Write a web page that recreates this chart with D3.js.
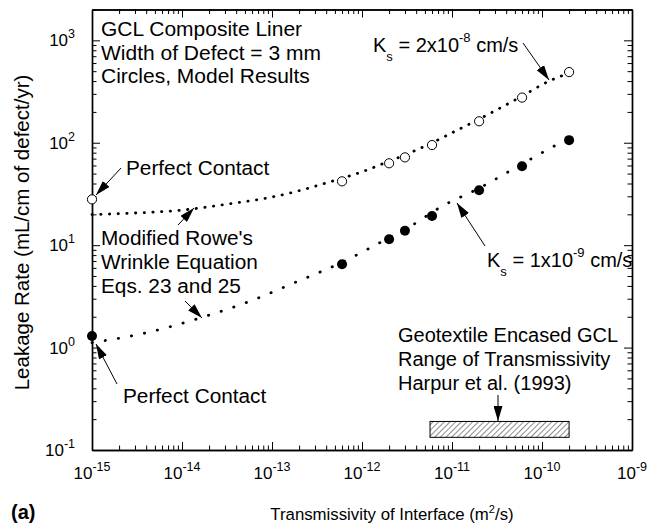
<!DOCTYPE html>
<html><head><meta charset="utf-8">
<script src="https://cdn.jsdelivr.net/npm/d3@7"></script>
<style>
body{margin:0;background:#fff}
svg{display:block}
text{font-family:"Liberation Sans",Arial,Helvetica,sans-serif;fill:#000}
</style>
</head><body>
<svg id="chart" width="651" height="529"></svg>
<script>
// ---------- data ----------
const openX   = [1e-15, 6e-13, 2e-12, 3e-12, 6e-12, 2e-11, 6e-11, 2e-10];
const openY   = [28, 42, 63, 72, 95, 162, 276, 490];
const filledX = [1e-15, 6e-13, 2e-12, 3e-12, 6e-12, 2e-11, 6e-11, 2e-10];
const filledY = [1.3, 6.5, 11.4, 13.8, 19.3, 34.4, 59, 106];
const upperCurveX = [1e-15, 3e-15, 1e-14, 3e-14, 1e-13, 2e-13, 4e-13, 6e-13, 1e-12, 2e-12, 3e-12, 6e-12, 1e-11, 2e-11, 6e-11, 1.2e-10, 2e-10];
const upperCurveY = [19.9, 20.6, 22, 25, 29.5, 34, 40.5, 45, 52, 66, 76, 100, 125, 170, 285, 400, 480];
const lowerCurveX = [1e-15, 3.4e-15, 1.66e-14, 5.7e-14, 1.88e-13, 6e-13, 2e-12, 3e-12, 7.9e-12, 2e-11, 6e-11, 1.28e-10, 2e-10];
const lowerCurveY = [1.12, 1.35, 1.97, 2.84, 4.39, 6.8, 11.8, 14.2, 24.2, 36, 62, 90, 110];
const harpurX = [5.7e-12, 2e-10];
const harpurY = [0.133, 0.19];
const xTickExps = [-15, -14, -13, -12, -11, -10, -9];
const yTickExps = [-1, 0, 1, 2, 3];
const xDomain = [1e-15, 1e-9];
const yDomain = [0.1, 2000];

// ---------- setup ----------
const svg = d3.select("#chart");
const L = 92, R = 632, T = 9.5, B = 450;
const x = d3.scaleLog().domain(xDomain).range([L, R]);
const y = d3.scaleLog().domain(yDomain).range([B, T]);

const defs = svg.append("defs");
defs.append("marker").attr("id", "ah")
  .attr("viewBox", "0 0 15 9").attr("refX", 15).attr("refY", 4.5)
  .attr("markerWidth", 15).attr("markerHeight", 9)
  .attr("markerUnits", "userSpaceOnUse").attr("orient", "auto")
  .append("path").attr("d", "M0,0L15,4.5L0,9Z").attr("fill", "#000");
const pat = defs.append("pattern").attr("id", "hatch")
  .attr("patternUnits", "userSpaceOnUse").attr("width", 4).attr("height", 4)
  .attr("patternTransform", "rotate(45)");
pat.append("line").attr("x1", 0).attr("y1", 0).attr("x2", 0).attr("y2", 4)
  .attr("stroke", "#000").attr("stroke-width", 0.9);

// minor tick values
const xMinor = [], yMinor = [];
xTickExps.slice(0, -1).forEach(e => { for (let m = 2; m <= 9; m++) xMinor.push(m * Math.pow(10, e)); });
for (let e = -1; e <= 3; e++) for (let m = 2; m <= 9; m++) { const v = m * Math.pow(10, e); if (v <= yDomain[1]) yMinor.push(v); }
const xMajor = xTickExps.map(e => Math.pow(10, e));
const yMajor = yTickExps.map(e => Math.pow(10, e));

function styleAxis(g) {
  g.selectAll("path.domain").attr("stroke", "#000").attr("stroke-width", 1.4);
  g.selectAll(".tick line").attr("stroke", "#000").attr("stroke-width", 1);
  g.selectAll(".tick text").remove();
}
function addAxis(axisFn, scale, transform, vals, size) {
  const g = svg.append("g").attr("transform", transform)
    .call(axisFn(scale).tickValues(vals).tickSizeInner(-size).tickSizeOuter(0).tickFormat(""));
  styleAxis(g);
  return g;
}
// major & minor ticks, inward on all four sides
addAxis(d3.axisBottom, x, `translate(0,${B})`, xMajor, 8);
addAxis(d3.axisBottom, x, `translate(0,${B})`, xMinor, 4.5);
addAxis(d3.axisTop, x, `translate(0,${T})`, xMajor, 8);
addAxis(d3.axisTop, x, `translate(0,${T})`, xMinor, 4.5);
addAxis(d3.axisLeft, y, `translate(${L},0)`, yMajor, 8);
addAxis(d3.axisLeft, y, `translate(${L},0)`, yMinor, 4.5);
addAxis(d3.axisRight, y, `translate(${R},0)`, yMajor, 8);
addAxis(d3.axisRight, y, `translate(${R},0)`, yMinor, 4.5);

// tick labels with superscripts
xTickExps.forEach(e => {
  const t = svg.append("text").attr("x", x(Math.pow(10, e))).attr("y", B + 28.5)
    .attr("text-anchor", "middle").attr("font-size", 17);
  t.append("tspan").text("10");
  t.append("tspan").attr("dy", -8).attr("font-size", 12.5).text(String(e));
});
yTickExps.forEach(e => {
  const t = svg.append("text").attr("x", 75).attr("y", y(Math.pow(10, e)) + 6)
    .attr("text-anchor", "end").attr("font-size", 17);
  t.append("tspan").text("10");
  t.append("tspan").attr("dy", -8).attr("font-size", 12.5).text(String(e));
});

// axis titles
const xt = svg.append("text").attr("x", 392).attr("y", 520).attr("text-anchor", "middle").attr("font-size", 16.8);
xt.append("tspan").text("Transmissivity of Interface (m");
xt.append("tspan").attr("dy", -7).attr("font-size", 11).text("2");
xt.append("tspan").attr("dy", 7).text("/s)");
svg.append("text").attr("transform", "translate(28.5,232.5) rotate(-90)")
  .attr("text-anchor", "middle").attr("font-size", 20.5)
  .text("Leakage Rate (mL/cm of defect/yr)");
svg.append("text").attr("x", 11).attr("y", 519).attr("font-size", 20).attr("font-weight", "bold").text("(a)");

// hatched range box
svg.append("rect")
  .attr("x", x(harpurX[0])).attr("y", y(harpurY[1]))
  .attr("width", x(harpurX[1]) - x(harpurX[0])).attr("height", y(harpurY[0]) - y(harpurY[1]))
  .attr("fill", "url(#hatch)").attr("stroke", "#000").attr("stroke-width", 1);

// model curves (dotted)
const line = d3.line().x(d => x(d[0])).y(d => y(d[1])).curve(d3.curveMonotoneX);
svg.append("path").datum(d3.zip(upperCurveX, upperCurveY)).attr("d", line)
  .attr("fill", "none").attr("stroke", "#000").attr("stroke-width", 2.8)
  .attr("stroke-linecap", "round").attr("stroke-dasharray", "0.3,8.4");
svg.append("path").datum(d3.zip(lowerCurveX, lowerCurveY)).attr("d", line)
  .attr("fill", "none").attr("stroke", "#000").attr("stroke-width", 2.8)
  .attr("stroke-linecap", "round").attr("stroke-dasharray", "0.3,13");

// points
svg.append("g").selectAll("circle").data(d3.zip(openX, openY)).join("circle")
  .attr("cx", d => x(d[0])).attr("cy", d => y(d[1])).attr("r", 4.6)
  .attr("fill", "#fff").attr("stroke", "#000").attr("stroke-width", 1);
svg.append("g").selectAll("circle").data(d3.zip(filledX, filledY)).join("circle")
  .attr("cx", d => x(d[0])).attr("cy", d => y(d[1])).attr("r", 5)
  .attr("fill", "#000");

// annotations
function txt(lines, x0, y0, dy, sx) {
  lines.forEach((s, i) => svg.append("text")
    .attr("transform", `translate(${x0},${y0 + i * dy}) scale(${sx},1)`)
    .attr("font-size", 20).text(s));
}
function arrow(x1, y1, x2, y2) {
  svg.append("line").attr("x1", x1).attr("y1", y1).attr("x2", x2).attr("y2", y2)
    .attr("stroke", "#000").attr("stroke-width", 1).attr("marker-end", "url(#ah)");
}
function ksLabel(x0, y0, val, exp) {
  const t = svg.append("text").attr("transform", `translate(${x0},${y0})`).attr("font-size", 20);
  t.append("tspan").text("K");
  t.append("tspan").attr("dy", 9).attr("font-size", 13).text("s");
  t.append("tspan").attr("dy", -9).text(` = ${val}x10`);
  t.append("tspan").attr("dy", -10).attr("font-size", 13).text(exp);
  t.append("tspan").attr("dy", 10).text(" cm/s");
}

txt(["GCL Composite Liner", "Width of Defect = 3 mm", "Circles, Model Results"], 101, 36, 23.5, 1.05);
ksLabel(373, 52, "2", "-8");
arrow(523, 43, 549, 80);

txt(["Perfect Contact"], 126, 175, 0, 1.04);
arrow(121, 168, 96, 195);

txt(["Modified Rowe's", "Wrinkle Equation", "Eqs. 23 and 25"], 101, 245, 24, 1.04);
arrow(178, 225, 194, 208);
arrow(185, 301, 202, 318);

ksLabel(487, 267, "1", "-9");
arrow(485, 246, 457, 203);

txt(["Perfect Contact"], 123, 403, 0, 1.04);
arrow(117, 384, 96, 344);

txt(["Geotextile Encased GCL", "Range of Transmissivity", "Harpur et al. (1993)"], 398, 342, 24, 1.0);
arrow(498, 395, 498, 421);
</script>
</body></html>
